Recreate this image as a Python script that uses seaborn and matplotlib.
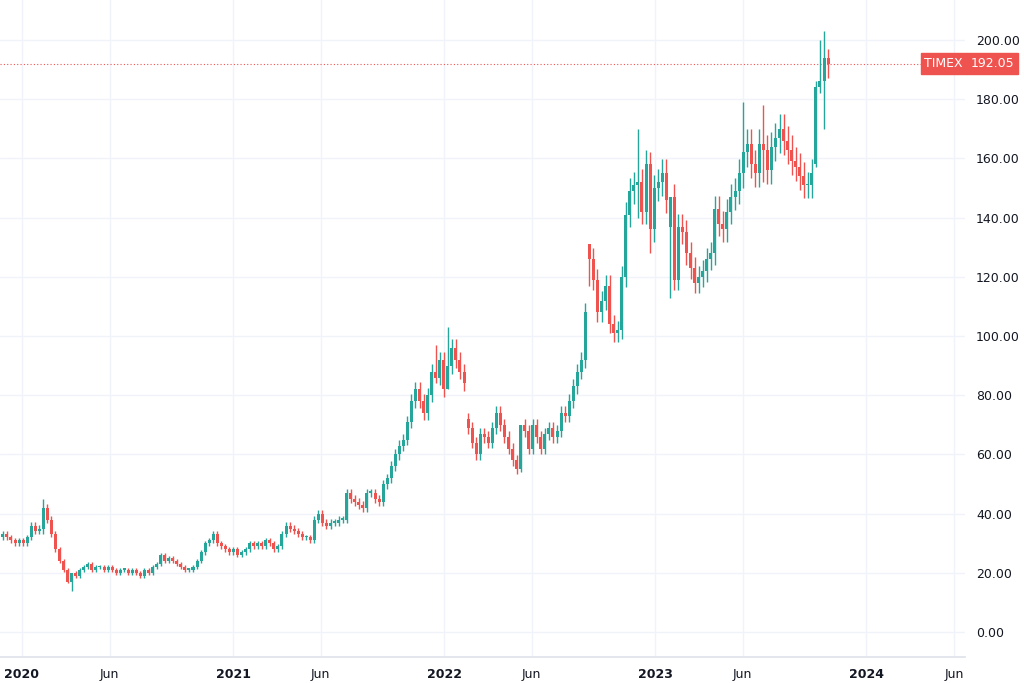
import numpy as np
import pandas as pd
import matplotlib
matplotlib.use("Agg")
import matplotlib.pyplot as plt
import matplotlib.dates as mdates
import seaborn as sns

# weekly closes, TIMEX
closes = [33, 32, 31, 30, 31, 30, 32, 36, 34, 35, 42, 38, 33, 28, 24, 21, 17,
          20, 19, 21, 22, 23, 21, 22,
          22, 21, 22, 21, 20, 21, 21, 20, 21, 20, 19, 21, 20, 22, 23,
          26, 24, 25, 24, 23, 22, 21,
          21, 22, 24, 27, 30, 31, 33,
          30, 29, 28, 27, 28, 26, 27, 28,
          30, 29, 30, 29, 31, 30, 28, 29,
          33, 36, 35, 34, 33, 32, 32, 31,
          38, 40, 37, 36, 37, 37, 38, 38,
          47, 45, 44, 43, 42, 47, 47, 45, 44,
          50, 52, 56, 60, 63, 65, 71, 78,
          82, 78, 74, 80, 88, 86, 92, 82, 90, 96,
          92, 88, 84, 69,
          64, 60, 67, 66, 64, 69, 74, 70, 66, 62, 58, 55,
          70, 68, 62, 70, 66, 62, 67, 69,
          66, 68, 74, 73, 78, 83, 88, 92, 108, 126,
          119, 108, 112, 117, 104, 101, 102, 120, 141, 149, 151, 152, 142, 158, 136,
          150, 152, 155, 146, 147,
          119, 137, 135, 128, 123, 118, 120, 122, 126, 128, 143, 138, 136, 142, 147, 149,
          155, 162, 165, 158, 155, 165, 163, 156, 164, 167, 170, 166, 163, 159, 157, 154,
          151, 151, 155, 184, 186, 194, 192.05]
# opening gaps (candle index -> open)
gap_opens = {115: 72}
gap_dates = {"2022-09-10": 131, "2023-01-24": 137, "2023-10-06": 158}
# notable wick extremes (date -> (high, low))
spikes = {"2020-02-05": (45, 33), "2020-03-25": (20, 14), "2021-12-20": (97, 84),
          "2022-01-10": (103, 88), "2022-05-15": (70, 54), "2022-09-10": (131, 117),
          "2022-12-05": (170, 140), "2022-12-20": (162, 128), "2023-01-24": (140, 113),
          "2023-06-01": (179, 150), "2023-07-10": (178, 152), "2023-10-06": (186, 157),
          "2023-10-13": (200, 182), "2023-10-20": (203, 170), "2023-10-27": (197, 187)}

last_date = pd.Timestamp("2023-10-27")
dates = pd.date_range(end=last_date, periods=len(closes), freq="7D")

def nearest(d):
    return int(np.argmin(np.abs((dates - pd.Timestamp(d)).days)))

opens = [closes[0] - 1] + closes[:-1]
for k, v in gap_opens.items():
    opens[k] = v
for d, v in gap_dates.items():
    opens[nearest(d)] = v
df = pd.DataFrame({"date": dates, "open": opens, "close": closes})
df["high"] = df[["open", "close"]].max(axis=1) * 1.03
df["low"] = df[["open", "close"]].min(axis=1) * 0.97
for d, (h, l) in spikes.items():
    k = nearest(d)
    df.loc[k, "high"] = max(h, df.loc[k, ["open", "close"]].max())
    df.loc[k, "low"] = min(l, df.loc[k, ["open", "close"]].min())

sns.set_theme(style="white")
fig = plt.figure(figsize=(10.24, 6.83), dpi=100)
ax = fig.add_axes([0, 26 / 683, 965 / 1024, 657 / 683])

UP, DN = "#26a69a", "#ef5350"
x = mdates.date2num(df["date"])
col = np.where(df["close"] >= df["open"], UP, DN)
ax.vlines(x, df["low"], df["high"], colors=col, linewidth=1, zorder=3)
bottom = df[["open", "close"]].min(axis=1)
height = (df["close"] - df["open"]).abs().clip(lower=0.5)
ax.bar(x, height, bottom=bottom, width=5.2, color=col, linewidth=0, zorder=4)

ax.set_ylim(-8.4, 213.5)
ax.set_xlim(mdates.date2num(pd.Timestamp("2019-11-24")), mdates.date2num(pd.Timestamp("2024-06-20")))

yt = np.arange(0, 201, 20)
ax.set_yticks(yt)
ax.yaxis.tick_right()
ax.set_yticklabels([f"{v:.2f}" for v in yt], fontsize=9, color="#131722")
xt = pd.to_datetime(["2020-01-01", "2020-06-01", "2021-01-01", "2021-06-01", "2022-01-01",
                     "2022-06-01", "2023-01-01", "2023-06-01", "2024-01-01", "2024-06-01"])
xl = ["2020", "Jun", "2021", "Jun", "2022", "Jun", "2023", "Jun", "2024", "Jun"]
ax.set_xticks(mdates.date2num(xt))
ax.set_xticklabels(xl, fontsize=9, color="#131722")
for lab, t in zip(ax.get_xticklabels(), xl):
    if t != "Jun":
        lab.set_fontweight("bold")
ax.tick_params(axis="both", length=0, pad=8)
ax.grid(True, color="#f0f3fa", linewidth=1)
for s in ["top", "left", "right"]:
    ax.spines[s].set_visible(False)
ax.spines["bottom"].set_color("#e0e3eb")

last = closes[-1]
ax.axhline(last, color=DN, linestyle=(0, (1, 2)), linewidth=0.8, zorder=2)
ax.text(1.006, last, f"{last:.2f}", transform=ax.get_yaxis_transform(), ha="left", va="center",
        fontsize=9, color="white", bbox=dict(boxstyle="square,pad=0.3", fc=DN, ec=DN), clip_on=False)
ax.text(0.998, last, "TIMEX", transform=ax.get_yaxis_transform(), ha="right", va="center",
        fontsize=9, color="white", bbox=dict(boxstyle="square,pad=0.3", fc=DN, ec=DN), zorder=6)

fig.savefig("out.png", dpi=100)
